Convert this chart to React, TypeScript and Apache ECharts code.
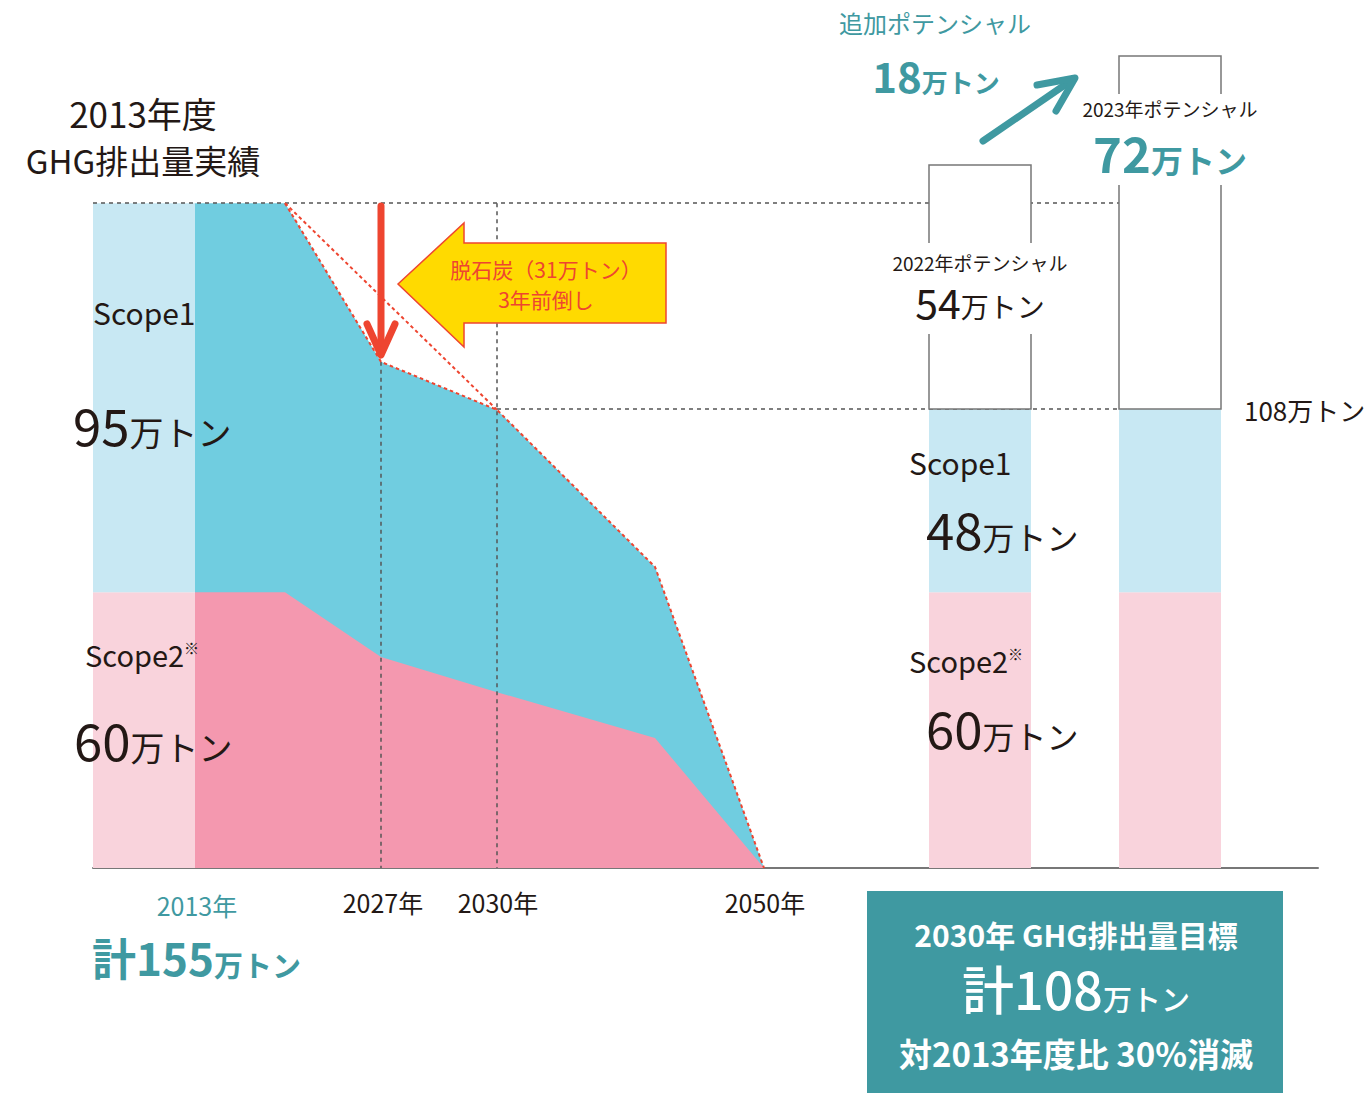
import React, { useEffect, useRef } from "react";
import * as echarts from "echarts";

// ---- data (vertical unit: 万トン, horizontal unit: schematic timeline position) ----
const colX = [51, 887, 1077]; // 2013 column, 2022 column, 2023 column
const colScope2 = [64.3, 64.3, 64.3];
const colTotal = [155, 107, 107];
const potentialX = [887, 1077];
const potentialTop = [163.9, 189.3];

const trendX = [102, 192, 288, 404, 562, 671];
const trendTotal = [155, 155, 118, 106.8, 70.2, 0];
const trendScope2 = [64.3, 64.3, 49.2, 41.0, 30.3, 0];

const planX = [192, 288, 404, 562, 671];
const planTotal = [155, 118, 106.8, 70.2, 0];
const originalPlanX = [192, 404];
const originalPlanY = [155, 106.8];

const xLabels = ["2027年", "2030年", "2050年"];

const FONT = "'Noto Sans CJK JP', 'Noto Sans', sans-serif";
const DARK = "#231815";
const TEAL = "#3F99A1";
const RED = "#EE4530";
const C_LBLUE = "#C8E8F3";
const C_LPINK = "#F9D3DC";
const C_CYAN = "#70CDE0";
const C_PINK = "#F498AF";
const COL_W = 102;
const SHIFT = 0.06; // compensate the font's central baseline

function txt(text: string, x: number, y: number, size: number, fill = DARK, align = "center", weight: any = "normal") {
  return {
    type: "text",
    z: 100,
    style: { text, x, y: y - SHIFT * size, fontSize: size, fontFamily: FONT, fontWeight: weight, fill, align, verticalAlign: "middle" },
  };
}

function rich(num: string, unit: string, x: number, y: number, nSize: number, uSize: number, fill = DARK, align = "left", weight: any = "normal") {
  return {
    type: "text",
    z: 100,
    style: {
      text: `{n|${num}}{u|${unit}}`,
      x,
      y: y - SHIFT * nSize,
      fill,
      align,
      verticalAlign: "middle",
      fontFamily: FONT,
      rich: {
        n: { fontSize: nSize, lineHeight: nSize, fontFamily: FONT, fontWeight: weight, fill, verticalAlign: "bottom" },
        u: { fontSize: uSize, lineHeight: uSize, fontFamily: FONT, fontWeight: weight, fill, verticalAlign: "bottom", padding: [0, 0, 1, 0] },
      },
    },
  };
}

function scope2(x: number, y: number) {
  return {
    type: "text",
    z: 100,
    style: {
      text: "{s|Scope2}{m|※}",
      x,
      y: y - SHIFT * 29,
      fill: DARK,
      align: "left",
      verticalAlign: "middle",
      fontFamily: FONT,
      rich: {
        s: { fontSize: 29, lineHeight: 29, fontFamily: FONT, fill: DARK, verticalAlign: "bottom" },
        m: { fontSize: 15, lineHeight: 15, fontFamily: FONT, fill: DARK, verticalAlign: "top" },
      },
    },
  };
}

function colSeries(name: string, data: number[][], style: any, z: number) {
  return {
    type: "custom",
    name,
    z,
    silent: true,
    data,
    renderItem: (params: any, api: any) => {
      const x = api.value(0);
      const y0 = api.value(1);
      const y1 = api.value(2);
      const top = api.coord([x, y1]);
      const bottom = api.coord([x, y0]);
      const w = api.size([COL_W, 0])[0];
      return {
        type: "rect",
        shape: { x: top[0] - w / 2, y: top[1], width: w, height: bottom[1] - top[1] },
        style,
      };
    },
  };
}

export default function App() {
  const ref = useRef<HTMLDivElement>(null);
  useEffect(() => {
    if (!ref.current) return;
    const chart = echarts.init(ref.current, null, { renderer: "svg" });

    const guide = { type: [4, 4], color: "#555", width: 1.5 };
    const option: any = {
      animation: false,
      backgroundColor: "#fff",
      grid: { left: 93, right: 52, top: 53, bottom: 225 },
      xAxis: {
        type: "value",
        min: 0,
        max: 1225,
        axisLine: { show: true, lineStyle: { color: "#777", width: 2 } },
        axisTick: { show: false },
        axisLabel: { show: false },
        splitLine: { show: false },
      },
      yAxis: {
        type: "value",
        min: 0,
        max: 190,
        show: false,
        splitLine: { show: false },
      },
      series: [
        {
          type: "line",
          name: "Scope1",
          z: 2,
          silent: true,
          showSymbol: false,
          data: trendX.map((x, i) => [x, trendTotal[i]]),
          lineStyle: { width: 0 },
          areaStyle: { color: C_CYAN, opacity: 1 },
        },
        {
          type: "line",
          name: "Scope2",
          z: 2,
          silent: true,
          showSymbol: false,
          data: trendX.map((x, i) => [x, trendScope2[i]]),
          lineStyle: { width: 0 },
          areaStyle: { color: C_PINK, opacity: 1 },
        },
        {
          type: "line",
          name: "guides",
          z: 3,
          silent: true,
          data: [],
          markLine: {
            silent: true,
            symbol: ["none", "none"],
            label: { show: false },
            lineStyle: guide,
            data: [
              [{ coord: [0, trendTotal[0]] }, { coord: [colX[2] - COL_W / 2, trendTotal[0]] }],
              [{ coord: [trendX[3], colTotal[1]] }, { coord: [colX[2] - COL_W / 2, colTotal[1]] }],
              [{ coord: [trendX[2], trendTotal[2]] }, { coord: [trendX[2], 0] }],
              [{ coord: [trendX[3], trendTotal[0]] }, { coord: [trendX[3], 0] }],
            ],
          },
        },
        colSeries("col-scope2", colX.map((x, i) => [x, 0, colScope2[i]]), { fill: C_LPINK }, 4),
        colSeries(
          "col-scope1",
          colX.map((x, i) => [x, colScope2[i], colTotal[i]]),
          { fill: C_LBLUE },
          4
        ),
        colSeries(
          "potential",
          potentialX.map((x, i) => [x, colTotal[i + 1], potentialTop[i]]),
          { fill: "#fff", stroke: "#777", lineWidth: 1.5 },
          5
        ),
        {
          type: "line",
          name: "plan",
          z: 6,
          silent: true,
          showSymbol: false,
          data: planX.map((x, i) => [x, planTotal[i]]),
          lineStyle: { color: RED, width: 2, type: [3.5, 3] },
        },
        {
          type: "line",
          name: "original plan",
          z: 6,
          silent: true,
          showSymbol: false,
          data: originalPlanX.map((x, i) => [x, originalPlanY[i]]),
          lineStyle: { color: RED, width: 2, type: [3.5, 3] },
        },
      ],
      graphic: [
        // gaps in the potential boxes behind labels
        { type: "rect", z: 100, shape: { x: 924, y: 243, width: 112, height: 91 }, style: { fill: "#fff" } },
        { type: "rect", z: 100, shape: { x: 1114, y: 94, width: 112, height: 91 }, style: { fill: "#fff" } },
        // yellow arrow
        {
          type: "polygon",
          z: 100,
          shape: {
            points: [
              [398, 284],
              [464, 223],
              [464, 243],
              [666, 243],
              [666, 323],
              [464, 323],
              [464, 347],
            ],
          },
          style: { fill: "#FFDA00", stroke: RED, lineWidth: 1.5 },
        },
        txt("脱石炭（31万トン）", 546, 270, 21, RED),
        txt("3年前倒し", 546, 300, 21, RED),
        // red down arrow
        { type: "line", z: 101, shape: { x1: 381, y1: 206, x2: 381, y2: 352 }, style: { stroke: RED, lineWidth: 7, lineCap: "round" } },
        {
          type: "polyline",
          z: 101,
          shape: { points: [[367, 324], [381, 355], [395, 324]] },
          style: { stroke: RED, lineWidth: 7, lineCap: "round", lineJoin: "round", fill: "none" },
        },
        // teal up arrow
        { type: "line", z: 101, shape: { x1: 983, y1: 141, x2: 1072, y2: 80 }, style: { stroke: TEAL, lineWidth: 7, lineCap: "round" } },
        {
          type: "polyline",
          z: 101,
          shape: { points: [[1037, 85], [1075, 78], [1056, 111]] },
          style: { stroke: TEAL, lineWidth: 7, lineCap: "round", lineJoin: "round", fill: "none" },
        },
        // left texts
        txt("2013年度", 143, 115, 35),
        txt("GHG排出量実績", 143, 162, 33),
        txt("Scope1", 93, 314, 30, DARK, "left"),
        rich("95", "万トン", 73, 427, 51, 34),
        scope2(85, 656),
        rich("60", "万トン", 74, 742, 51, 34),
        txt("2013年", 197, 906, 25, TEAL),
        rich("計155", "万トン", 92, 960, 44, 29, TEAL, "left", "bold"),
        txt(xLabels[0], 383, 903, 25),
        txt(xLabels[1], 498, 903, 25),
        txt(xLabels[2], 765, 903, 25),
        // right texts
        txt("追加ポテンシャル", 935, 24, 24, TEAL),
        rich("18", "万トン", 936, 77, 42, 26, TEAL, "center", "bold"),
        txt("2023年ポテンシャル", 1170, 110, 19),
        rich("72", "万トン", 1170, 154, 49, 32, TEAL, "center", "bold"),
        txt("2022年ポテンシャル", 980, 264, 19),
        rich("54", "万トン", 980, 303, 41, 28, DARK, "center"),
        txt("Scope1", 909, 464, 30, DARK, "left"),
        rich("48", "万トン", 926, 531, 51, 32),
        scope2(909, 662),
        rich("60", "万トン", 926, 730, 51, 32),
        txt("108万トン", 1244, 411, 26, DARK, "left"),
        // target box
        { type: "rect", z: 100, shape: { x: 867, y: 891, width: 416, height: 202 }, style: { fill: TEAL } },
        txt("2030年 GHG排出量目標", 1076, 936, 30, "#fff", "center", "bold"),
        rich("計108", "万トン", 1076, 991, 52, 29, "#fff", "center", 500),
        txt("対2013年度比 30%消滅", 1076, 1055, 33, "#fff", "center", "bold"),
      ],
    };
    chart.setOption(option);
    return () => chart.dispose();
  }, []);
  return <div ref={ref} style={{ position: "fixed", left: 0, top: 0, width: 1370, height: 1093 }} />;
}
